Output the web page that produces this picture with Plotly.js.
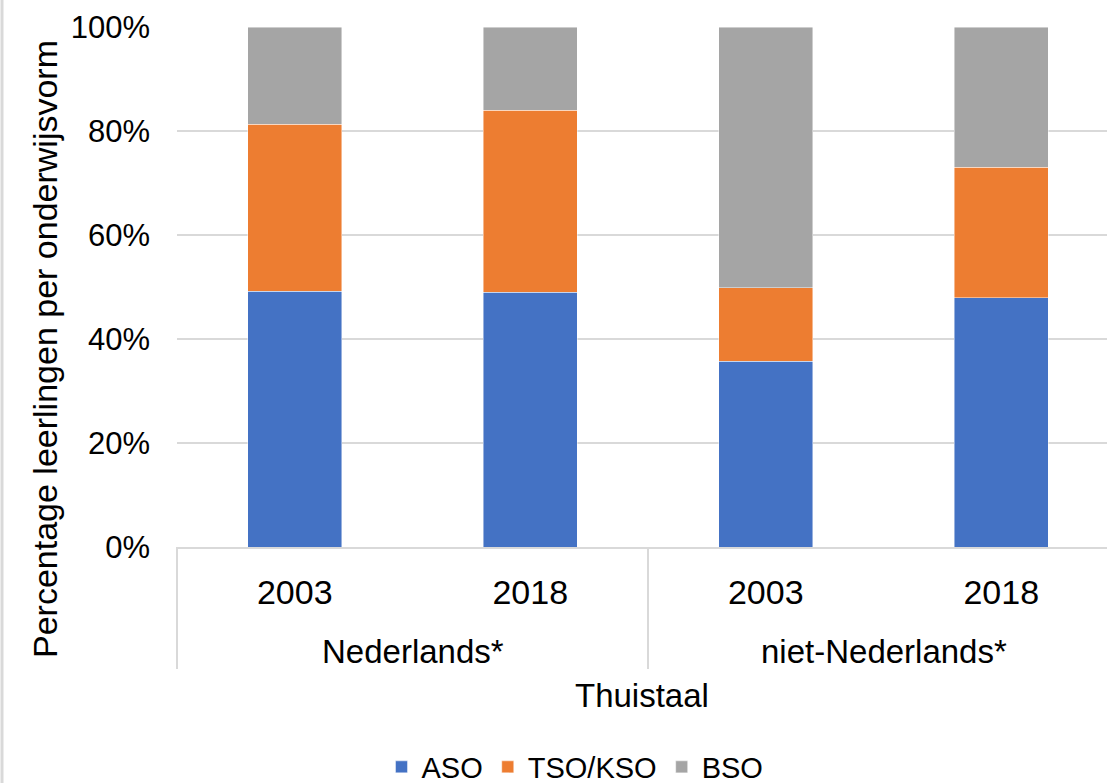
<!DOCTYPE html>
<html>
<head>
<meta charset="utf-8">
<script src="https://cdn.plot.ly/plotly-3.0.1.min.js"></script>
<style>
  html, body { margin: 0; padding: 0; background: #fff; overflow: hidden; }
  #chart { width: 1107px; height: 783px; }
</style>
</head>
<body>
<div id="chart"></div>
<script>
// Data
const thuistaal = ['Nederlands*', 'Nederlands*', 'niet-Nederlands*', 'niet-Nederlands*'];
const jaren = ['2003', '2018', '2003', '2018'];
const aso = [49.2, 49.0, 35.7, 47.9];
const tsoKso = [32.1, 35.0, 14.2, 25.1];
const bso = [18.7, 16.0, 50.1, 27.0];
const seriesNames = ['ASO', 'TSO/KSO', 'BSO'];
const seriesColors = ['#4472C4', '#ED7D31', '#A5A5A5'];
const yTitle = 'Percentage leerlingen per onderwijsvorm';
const xTitle = 'Thuistaal';

const FONT = 'Liberation Sans, Arial, sans-serif';
const W = 1107, H = 783;
const L = 177, R = 0, T = 27, B = 236;
const plotW = W - L - R, plotH = H - T - B;
const px2x = p => (p - L) / plotW;
const px2y = p => (H - B - p) / plotH;

// unique category key per bar, labelled by year
const cats = thuistaal.map((g, i) => g + ' | ' + jaren[i]);
const xRange = [-0.5, 3.449];

const values = [aso, tsoKso, bso];
const traces = values.map((v, i) => ({
  type: 'bar',
  name: seriesNames[i],
  x: cats,
  y: v,
  marker: { color: seriesColors[i], line: { color: 'rgba(255,255,255,0.6)', width: 0.75 } },
  hoverinfo: 'y+name'
}));

// group labels and dividers derived from the data
const groups = [...new Set(thuistaal)];
const annotations = [];
const shapes = [];
const idxToPaper = v => (v - xRange[0]) / (xRange[1] - xRange[0]);
groups.forEach(g => {
  const idx = thuistaal.map((t, i) => t === g ? i : -1).filter(i => i >= 0);
  const first = Math.min(...idx), last = Math.max(...idx);
  annotations.push({
    text: g, xref: 'paper', yref: 'paper',
    x: idxToPaper((first + last) / 2), y: px2y(651),
    xanchor: 'center', yanchor: 'middle', showarrow: false,
    font: { family: FONT, size: 33, color: '#000' }
  });
  [first - 0.5, last + 0.5].forEach(b => {
    const p = idxToPaper(b);
    if (p >= 0 && p <= 1.0001) {
      shapes.push({
        type: 'line', xref: 'paper', yref: 'paper',
        x0: p, x1: p, y0: 0, y1: px2y(669),
        line: { color: '#d9d9d9', width: 2 }
      });
    }
  });
});

annotations.push({
  text: yTitle,
  xref: 'paper', yref: 'paper',
  x: px2x(45), y: px2y(349),
  xanchor: 'center', yanchor: 'middle',
  textangle: -90,
  showarrow: false,
  font: { family: FONT, size: 34, color: '#000' }
});
annotations.push({
  text: xTitle,
  xref: 'paper', yref: 'paper',
  x: 0.5, y: px2y(696),
  xanchor: 'center', yanchor: 'middle',
  showarrow: false,
  font: { family: FONT, size: 33, color: '#000' }
});

shapes.push({
  type: 'line', xref: 'paper', yref: 'paper',
  x0: px2x(2), x1: px2x(2), y0: px2y(0), y1: px2y(H),
  line: { color: '#d9d9d9', width: 3 }
});

const layout = {
  width: W, height: H,
  margin: { l: L, r: R, t: T, b: B, pad: 0, autoexpand: false },
  paper_bgcolor: '#fff', plot_bgcolor: '#fff',
  font: { family: FONT, size: 30, color: '#000' },
  barmode: 'stack',
  bargap: 0.6,
  xaxis: {
    type: 'category',
    range: xRange,
    tickvals: cats,
    ticktext: jaren,
    showgrid: false,
    showline: true, linecolor: '#d9d9d9', linewidth: 2,
    ticks: '',
    ticklabelstandoff: 14,
    tickfont: { family: FONT, size: 34, color: '#000' },
    zeroline: false
  },
  yaxis: {
    range: [0, 100],
    dtick: 20,
    ticksuffix: '%',
    showgrid: true, gridcolor: '#d9d9d9', gridwidth: 2,
    zeroline: false,
    showline: false,
    ticks: '',
    ticklabelstandoff: 26,
    tickfont: { family: FONT, size: 31, color: '#000' }
  },
  showlegend: true,
  legend: {
    orientation: 'h',
    xref: 'container', yref: 'container',
    x: 575 / W, xanchor: 'center',
    y: 1 - 767 / H, yanchor: 'middle',
    font: { family: FONT, size: 29, color: '#000' },
    traceorder: 'normal',
    itemclick: false
  },
  annotations: annotations,
  shapes: shapes
};

Plotly.newPlot('chart', traces, layout, { displayModeBar: false, staticPlot: true });
</script>
</body>
</html>
